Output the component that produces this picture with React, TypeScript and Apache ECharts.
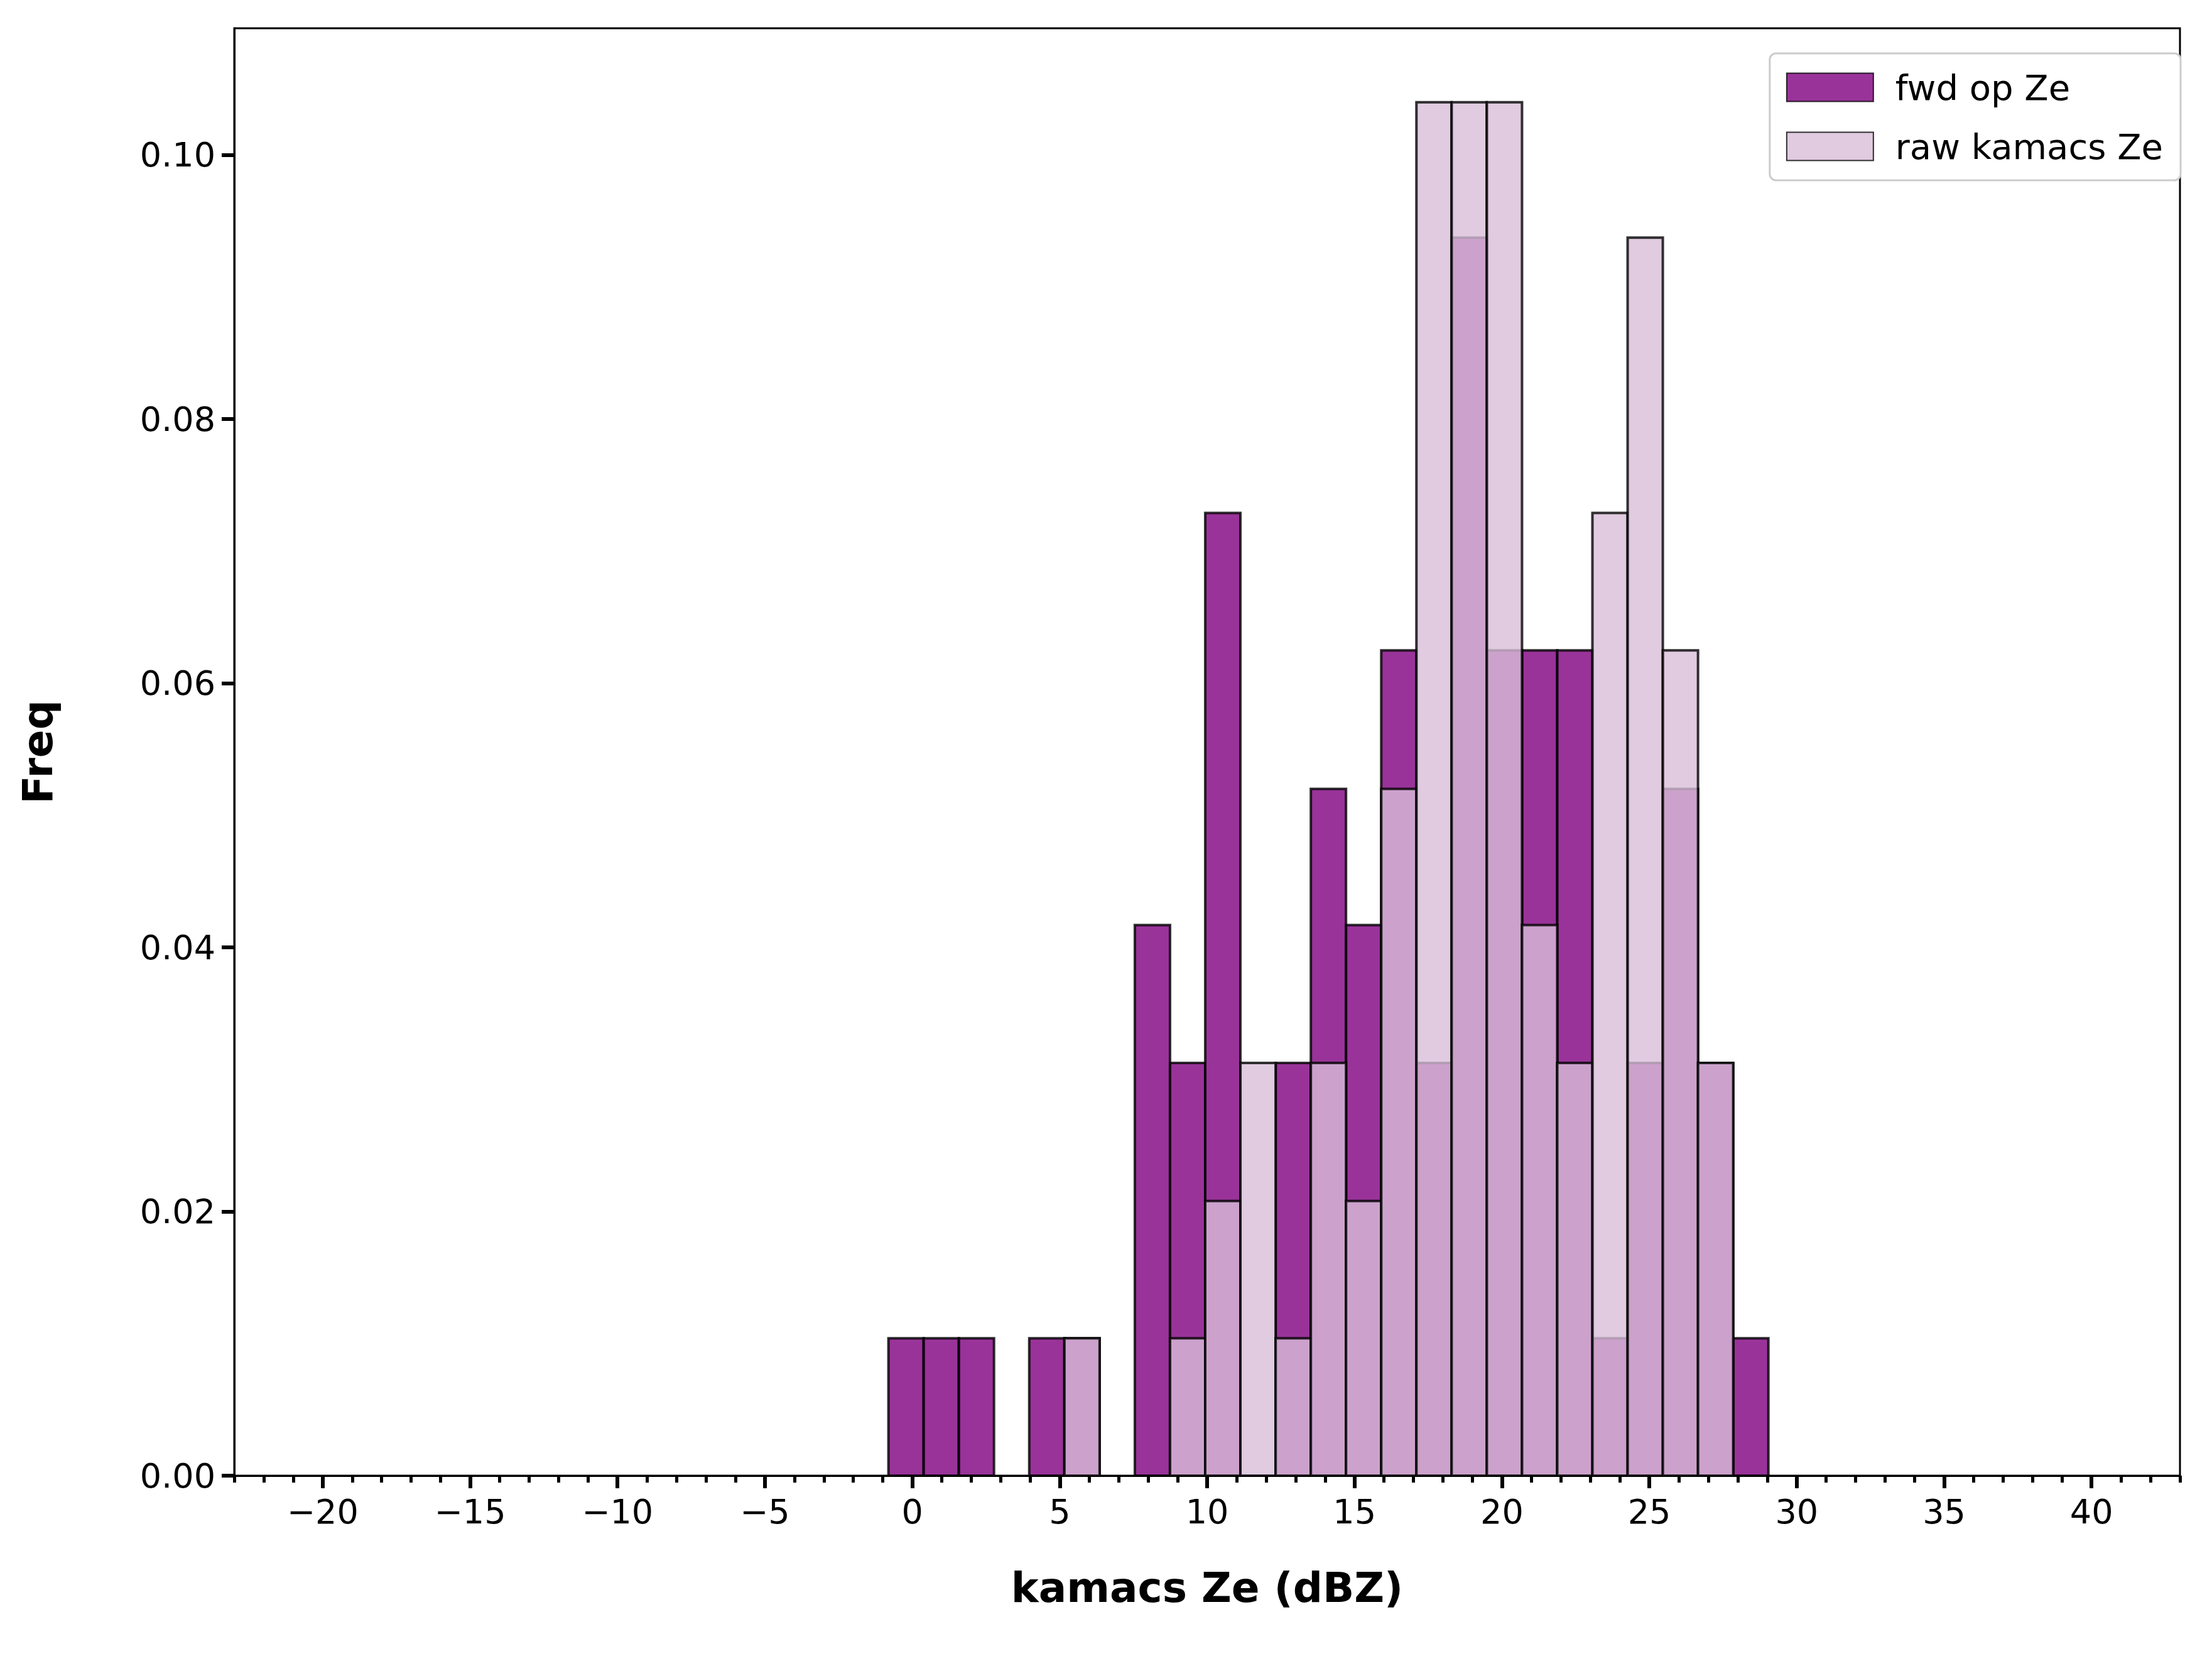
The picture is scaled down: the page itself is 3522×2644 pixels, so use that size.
import { useEffect, useRef } from 'react'
import * as echarts from 'echarts'

// bin edges: 25 bins of equal width from about -0.81 to 29.05 dBZ
const binStart = -0.81
const binWidth = 1.194
const fwdFreq = [
  0.0104, 0.0104, 0.0104, 0, 0.0104, 0.0104, 0, 0.0417, 0.03125, 0.0729, 0, 0.03125, 0.052,
  0.0417, 0.0625, 0.03125, 0.09375, 0.0625, 0.0625, 0.0625, 0.0104, 0.03125, 0.052, 0.03125, 0.0104,
]
const rawFreq = [
  0, 0, 0, 0, 0, 0.0104, 0, 0, 0.0104, 0.0208, 0.03125, 0.0104, 0.03125,
  0.0208, 0.052, 0.104, 0.104, 0.104, 0.0417, 0.03125, 0.0729, 0.09375, 0.0625, 0.03125, 0,
]
const xMajor = [-20, -15, -10, -5, 0, 5, 10, 15, 20, 25, 30, 35, 40]
const xMinor: number[] = []
for (let v = -23; v <= 43; v++) xMinor.push(v)

function toBins(vals: number[]) {
  return vals
    .map((h, i) => [binStart + i * binWidth, binStart + (i + 1) * binWidth, h])
    .filter((d) => d[2] > 0)
}

function renderBar(params: any, api: any) {
  const a = api.coord([api.value(0), api.value(2)])
  const b = api.coord([api.value(1), 0])
  return {
    type: 'rect',
    shape: { x: a[0], y: a[1], width: b[0] - a[0], height: b[1] - a[1] },
    style: api.style(),
  }
}

export default function App() {
  const ref = useRef<HTMLDivElement>(null)

  useEffect(() => {
    document.body.style.margin = '0'
    if (!ref.current) return
    const chart = echarts.init(ref.current, null, { renderer: 'svg' })
    const font = 'DejaVu Sans'
    chart.setOption({
      animation: false,
      textStyle: { fontFamily: font },
      grid: {
        left: 373, right: 33 + 18, top: 45, bottom: 273 + 22,
        show: true, borderColor: '#000', borderWidth: 3, backgroundColor: '#fff',
      },
      legend: {
        right: 50, top: 85,
        orient: 'vertical',
        icon: 'rect',
        itemWidth: 138, itemHeight: 45, itemGap: 38,
        padding: [26, 28, 26, 26],
        borderColor: '#ccc', borderWidth: 3, borderRadius: 10,
        backgroundColor: '#fff',
        textStyle: { fontSize: 56, color: '#000', fontFamily: font, padding: [0, 0, 0, 30] },
        data: ['fwd op Ze', 'raw kamacs Ze'],
      },
      xAxis: [
        {
          type: 'value', min: -23, max: 43,
          name: 'kamacs Ze (dBZ)', nameLocation: 'middle', nameGap: 145,
          nameTextStyle: { fontSize: 66, fontWeight: 'bold', color: '#000' },
          axisLine: { onZero: false, lineStyle: { color: '#000', width: 3 } },
          axisTick: { customValues: xMajor, length: 20, lineStyle: { width: 6, color: '#000' } },
          axisLabel: {
            customValues: xMajor, fontSize: 54, color: '#000', margin: 30,
            formatter: (v: number) => String(v).replace('-', '\u2212'),
          },
          splitLine: { show: false },
        },
        {
          type: 'value', min: -23, max: 43, position: 'bottom',
          axisLine: { show: false, onZero: false },
          axisTick: { customValues: xMinor, length: 11, lineStyle: { width: 5, color: '#000' } },
          axisLabel: { show: false },
          splitLine: { show: false },
        },
      ],
      yAxis: {
        type: 'value', min: 0, max: 0.1096, interval: 0.02,
        name: 'Freq', nameLocation: 'middle', nameGap: 280,
        nameTextStyle: { fontSize: 66, fontWeight: 'bold', color: '#000' },
        axisLine: { show: true, onZero: false, lineStyle: { color: '#000', width: 3 } },
        axisTick: { show: true, length: 20, lineStyle: { width: 6, color: '#000' } },
        axisLabel: { fontSize: 54, color: '#000', margin: 30, formatter: (v: number) => v.toFixed(2), showMaxLabel: false },
        splitLine: { show: false },
      },
      series: [
        {
          name: 'fwd op Ze', type: 'custom', renderItem: renderBar,
          encode: { x: [0, 1], y: 2 }, data: toBins(fwdFreq),
          itemStyle: { color: 'rgba(128,0,128,0.8)', borderColor: 'rgba(0,0,0,0.8)', borderWidth: 4 },
        },
        {
          name: 'raw kamacs Ze', type: 'custom', renderItem: renderBar,
          encode: { x: [0, 1], y: 2 }, data: toBins(rawFreq),
          itemStyle: { color: 'rgba(216,190,216,0.8)', borderColor: 'rgba(0,0,0,0.8)', borderWidth: 4 },
        },
      ],
    })
    return () => chart.dispose()
  }, [])

  return <div ref={ref} style={{ width: 3522, height: 2644 }} />
}
